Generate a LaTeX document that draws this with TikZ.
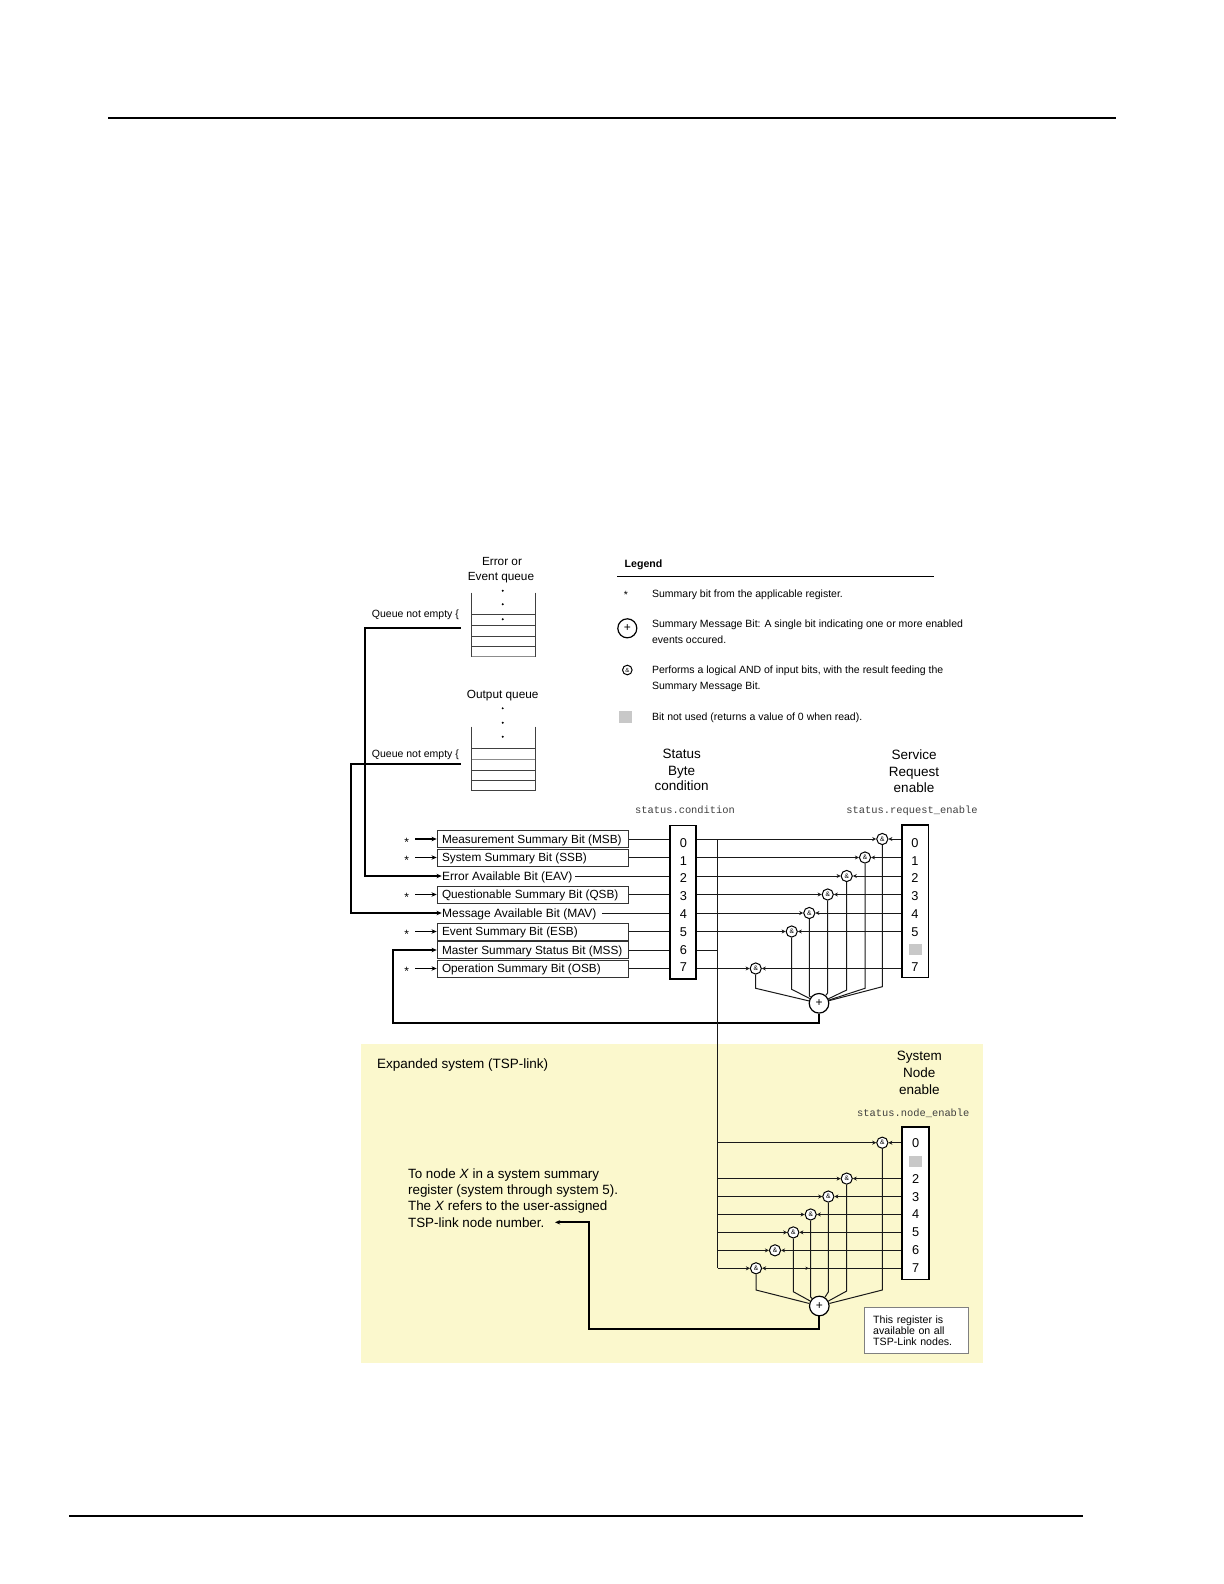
\documentclass[tikz,border=0pt]{standalone}
\usepackage{fontspec}
\setmainfont{Liberation Sans}
\setmonofont{Liberation Mono}
\usetikzlibrary{arrows.meta,calc}
\definecolor{tspyellow}{RGB}{251,248,205}
\definecolor{unusedgray}{RGB}{200,200,200}
\newcommand{\bitlabel}[1]{\makebox[91pt][l]{#1}}
\begin{document}
\begin{tikzpicture}[x=0.5pt,y=-0.5pt,
  txt/.style={inner sep=0pt,text depth=0pt},
  bigtxt/.style={txt,text height=4.86pt,font=\fontsize{6.75}{8}\selectfont},
  nodetxt/.style={txt,text height=4.82pt,font=\fontsize{6.7}{8}\selectfont,anchor=west},
  midtxt/.style={txt,text height=4.32pt,font=\fontsize{6}{7}\selectfont},
  qtxt/.style={txt,text height=4.25pt,font=\fontsize{5.9}{7}\selectfont},
  smalltxt/.style={txt,text height=3.78pt,font=\fontsize{5.25}{6}\selectfont},
  legtxt/.style={txt,text height=3.78pt,font=\fontsize{5.25}{6}\selectfont,anchor=west},
  digit/.style={txt,text height=4.6pt,font=\fontsize{6.4}{7}\selectfont},
  monotxt/.style={txt,text height=3.74pt,font=\fontsize{5.2}{6}\ttfamily,text=black!75},
  wire/.style={draw=black!90,line width=0.5pt},
  fbwire/.style={draw=black,line width=0.85pt},
  bitbox/.style={draw=black!80,line width=0.5pt,inner xsep=2.4pt,inner ysep=0pt,minimum height=8.5pt,font=\fontsize{5.9}{7}\selectfont,text height=4.25pt,text depth=0pt,anchor=west},
  regbox/.style={draw,line width=0.8pt,inner sep=0pt},
  andgate/.style={circle,draw,fill=white,line width=0.5pt,inner sep=0pt,minimum size=5.6pt,font=\fontsize{3.3}{3.5}\selectfont},
  orgate/.style={circle,draw,fill=white,line width=0.6pt,inner sep=0pt,minimum size=9.8pt,font=\fontsize{6}{7}\selectfont},
  gtip/.style={-{Stealth[length=2pt,width=2pt]}},
  btip/.style={-{Stealth[length=2.6pt,width=2.2pt]}},
  qline/.style={line width=0.5pt,draw=black!75},
]
\useasboundingbox (0,0) rectangle (1224,1584);
% page rules
\coordinate (rt1) at (108,118); \coordinate (rt2) at (1116,118);
\draw[line width=0.75pt] (rt1) -- (rt2);
\coordinate (rb1) at (69,1516); \coordinate (rb2) at (1083,1516);
\draw[line width=1.3pt] (rb1) -- (rb2);

% expanded system background
\fill[tspyellow] (361,1044.3) rectangle (982.7,1362.7);

% ---------- queues ----------
\node[qtxt] (eqt1) at (502,561.7) {Error or};
\node[qtxt] (eqt2) at (501,576) {Event queue};
\draw[qline] (471.7,592.7) -- (471.7,656.7) (535,592.7) -- (535,656.7);
\foreach \yy in {614.3,625.3,636,646.7} \draw[qline] (471.7,\yy) -- (535,\yy);
\draw[line width=0.5pt,draw=black!45] (471.7,656.7) -- (535,656.7);
\foreach \yy in {590.7,604.3,619.3} \fill (502.7,\yy) circle[radius=0.55pt];
\node[smalltxt,anchor=east] (qne1) at (459.3,613.3) {Queue not empty \{};

\node[qtxt] (oqt) at (502.7,694) {Output queue};
\foreach \yy in {708.3,722.7,736.7} \fill (502.7,\yy) circle[radius=0.55pt];
\draw[qline] (471.7,726.7) -- (471.7,790.7) (535,726.7) -- (535,790.7);
\foreach \yy in {748.3,770,780.7,790.7} \draw[qline] (471.7,\yy) -- (535,\yy);
\draw[line width=0.5pt,draw=black!45] (471.7,759) -- (535,759);
\node[smalltxt,anchor=east] (qne2) at (459.3,753.3) {Queue not empty \{};

% ---------- legend ----------
\node[txt,text height=3.8pt,font=\fontsize{5.3}{6}\selectfont\bfseries,anchor=west] (leg) at (624.3,564) {Legend};
\coordinate (lr1) at (617.3,576.7); \coordinate (lr2) at (934,576.7);
\draw[line width=0.6pt] (lr1) -- (lr2);
\node[smalltxt] (legstar) at (626,595) {*};
\node[legtxt] (l1) at (651.7,593.3) {Summary bit from the applicable register.};
\node[orgate,minimum size=9.5pt] (legor) at (627.3,628.3) {+};
\node[legtxt] (l2) at (651.7,623.3) {Summary Message Bit: A single bit indicating one or more enabled};
\node[legtxt] (l3) at (651.7,639.3) {events occured.};
\node[andgate,minimum size=4.8pt,font=\fontsize{3}{3}\selectfont] (legand) at (627.3,670) {\&};
\node[legtxt] (l4) at (651.7,670) {Performs a logical AND of input bits, with the result feeding the};
\node[legtxt] (l5) at (651.7,685.7) {Summary Message Bit.};
\fill[unusedgray] (619.3,711) rectangle (631.7,723.3);
\node[legtxt] (l6) at (651.7,716.7) {Bit not used (returns a value of 0 when read).};

% ---------- status byte labels ----------
\node[bigtxt] (sbl1) at (681.7,754) {Status};
\node[bigtxt] (sbl2) at (681.7,770.7) {Byte};
\node[bigtxt] (sbl3) at (681.7,786) {condition};
\node[monotxt] (sbm) at (685,810) {status.condition};
\node[bigtxt] (srl1) at (914,755) {Service};
\node[bigtxt] (srl2) at (914,771.7) {Request};
\node[bigtxt] (srl3) at (914,787.3) {enable};
\node[monotxt] (srm) at (912,810) {status.request\_enable};

% ---------- bit boxes ----------
\node[bitbox] (msb) at (436.7,839) {\bitlabel{Measurement Summary Bit (MSB)}};
\node[bitbox] (ssb) at (436.7,857.5) {\bitlabel{System Summary Bit (SSB)}};
\node[midtxt,anchor=west] (eav) at (441.7,876) {Error Available Bit (EAV)};
\node[bitbox] (qsb) at (436.7,894.5) {\bitlabel{Questionable Summary Bit (QSB)}};
\node[midtxt,anchor=west] (mav) at (441.7,913) {Message Available Bit (MAV)};
\node[bitbox] (esb) at (436.7,931.5) {\bitlabel{Event Summary Bit (ESB)}};
\node[bitbox] (mss) at (436.7,950) {\bitlabel{Master Summary Status Bit (MSS)}};
\node[bitbox] (osb) at (436.7,968.5) {\bitlabel{Operation Summary Bit (OSB)}};

\foreach \b in {msb,ssb,qsb,esb,osb} {
  \path (\b.west) ++(-30,3) node[midtxt] (st\b) {*};
  \draw[line width=0.6pt,btip] ($(st\b.east |- \b.west)+(6,0)$) -- (\b.west);
}

% status condition register
\node[regbox,minimum width=13pt,minimum height=76.7pt] (cond) at (683,902) {};
\foreach \d/\yy in {0/842.7,1/860.7,2/878,3/895.7,4/914,5/932,6/950,7/967.3}
  \node[digit] (cd\d) at (683.3,\yy) {\d};

\foreach \b in {msb,ssb,qsb,esb,mss,osb} \draw[wire] (\b.east) -- (cond.west |- \b.east);
\draw[wire] ([xshift=1.2pt]eav.east) -- (cond.west |- eav.east);
\draw[wire] ([xshift=2.5pt]mav.east) -- (cond.west |- mav.east);

% queue connectors
\coordinate (eqo) at (460.7,627.7);
\coordinate (oqo) at (460.7,764.3);
\draw[fbwire,btip] (eqo) -- (365,627.7) |- (eav.west);
\draw[fbwire,btip] (oqo) -- (351,764.3) |- (mav.west);

% service request register
\node[regbox,minimum width=13.3pt,minimum height=76.15pt] (srq) at (915,901.15) {};
\foreach \d/\yy in {0/842.7,1/860.7,2/878,3/895.7,4/914,5/932,7/967.3}
  \node[digit] (sd\d) at (915,\yy) {\d};
\fill[unusedgray] (909.3,944) rectangle (921.7,955);

% AND gates (status byte)
\foreach \i/\gx in {0/882.3,1/865,2/846.7,3/827.7,4/809.3,5/791.7,7/755.7}
  \node[andgate] (g\i) at (\gx,839+18.5*\i) {\&};
\foreach \i in {0,1,2,3,4,5,7} {
  \draw[wire,gtip] (cond.east |- g\i) -- (g\i);
  \draw[wire,gtip] (srq.west |- g\i) -- (g\i);
}
\node[orgate] (sor) at (819,1003.3) {+};
\foreach \i/\gx/\vy in {0/882.3/986.7,1/865/988.3,2/846.7/990,3/827.7/993,4/809.3/996,5/791.7/989.3,7/755.7/988.3}
  \draw[wire] (g\i) -- (\gx,\vy) -- (sor);
\draw[fbwire,btip] (sor.south) |- (393.3,1023.3) |- (mss.west);

% bus to expanded system
\coordinate (bustop) at (717.5,839);
\coordinate (busbot) at (717.5,1268.3);
\draw[wire] (bustop) -- (busbot);
\draw[wire] (cond.east |- mss.east) -- (bustop |- mss.east);

% ---------- expanded system ----------
\node[bigtxt,anchor=west] (exp) at (376.7,1063.3) {Expanded system (TSP-link)};
\node[bigtxt] (sn1) at (919.3,1056) {System};
\node[bigtxt] (sn2) at (919.3,1072.7) {Node};
\node[bigtxt] (sn3) at (919.3,1089.3) {enable};
\node[monotxt] (snm) at (913.3,1112.3) {status.node\_enable};

\node[regbox,minimum width=13.65pt,minimum height=76.3pt,fill=white] (nreg) at (915.35,1203) {};
\foreach \d/\yy in {0/1143.3,2/1179.3,3/1196.7,4/1214.3,5/1232.3,6/1250,7/1268.3}
  \node[digit] (nd\d) at (915.7,\yy) {\d};
\fill[unusedgray] (909.3,1156) rectangle (921.7,1166.7);

\foreach \i/\gx in {0/882.3,2/846.7,3/828.3,4/810.7,5/793.3,6/775,7/756}
  \node[andgate] (e\i) at (\gx,1142.7+17.94*\i) {\&};
\foreach \i in {0,2,3,4,5,6,7} {
  \draw[wire,gtip] (busbot |- e\i) -- (e\i);
  \draw[wire,gtip] (nreg.west |- e\i) -- (e\i);
}
\draw[wire,-{Stealth[length=1.8pt,width=1.6pt]}] (802,1268.3) -- (809,1268.3);
\node[orgate] (eor) at (819.3,1306) {+};
\foreach \i/\gx/\vy in {0/882.3/1290,2/846.7/1291,3/828.3/1292,4/810.7/1297,5/793.3/1291.7,7/756/1290}
  \draw[wire] (e\i) -- (\gx,\vy) -- (eor);

\node[nodetxt] (tn1) at (407.7,1174) {To node \textit{X} in a system summary};
\node[nodetxt] (tn2) at (407.7,1190) {register (system through system 5).};
\node[nodetxt] (tn3) at (407.7,1206) {The \textit{X} refers to the user-assigned};
\node[nodetxt] (tn4) at (407.7,1222.3) {TSP-link node number.};
\coordinate (tsparr) at (555,1222.3);
\draw[fbwire,btip] (eor.south) |- (589.3,1329) |- (tsparr);

\node[draw=black!50,fill=white,line width=0.5pt,anchor=north west,minimum width=52pt,minimum height=23pt,inner xsep=4.2pt,text width=43.6pt,align=left,font=\fontsize{5.3}{5.4}\selectfont] (note) at (864.3,1307.3) {This register is\\available on all\\TSP-Link nodes.};
\end{tikzpicture}
\end{document}
